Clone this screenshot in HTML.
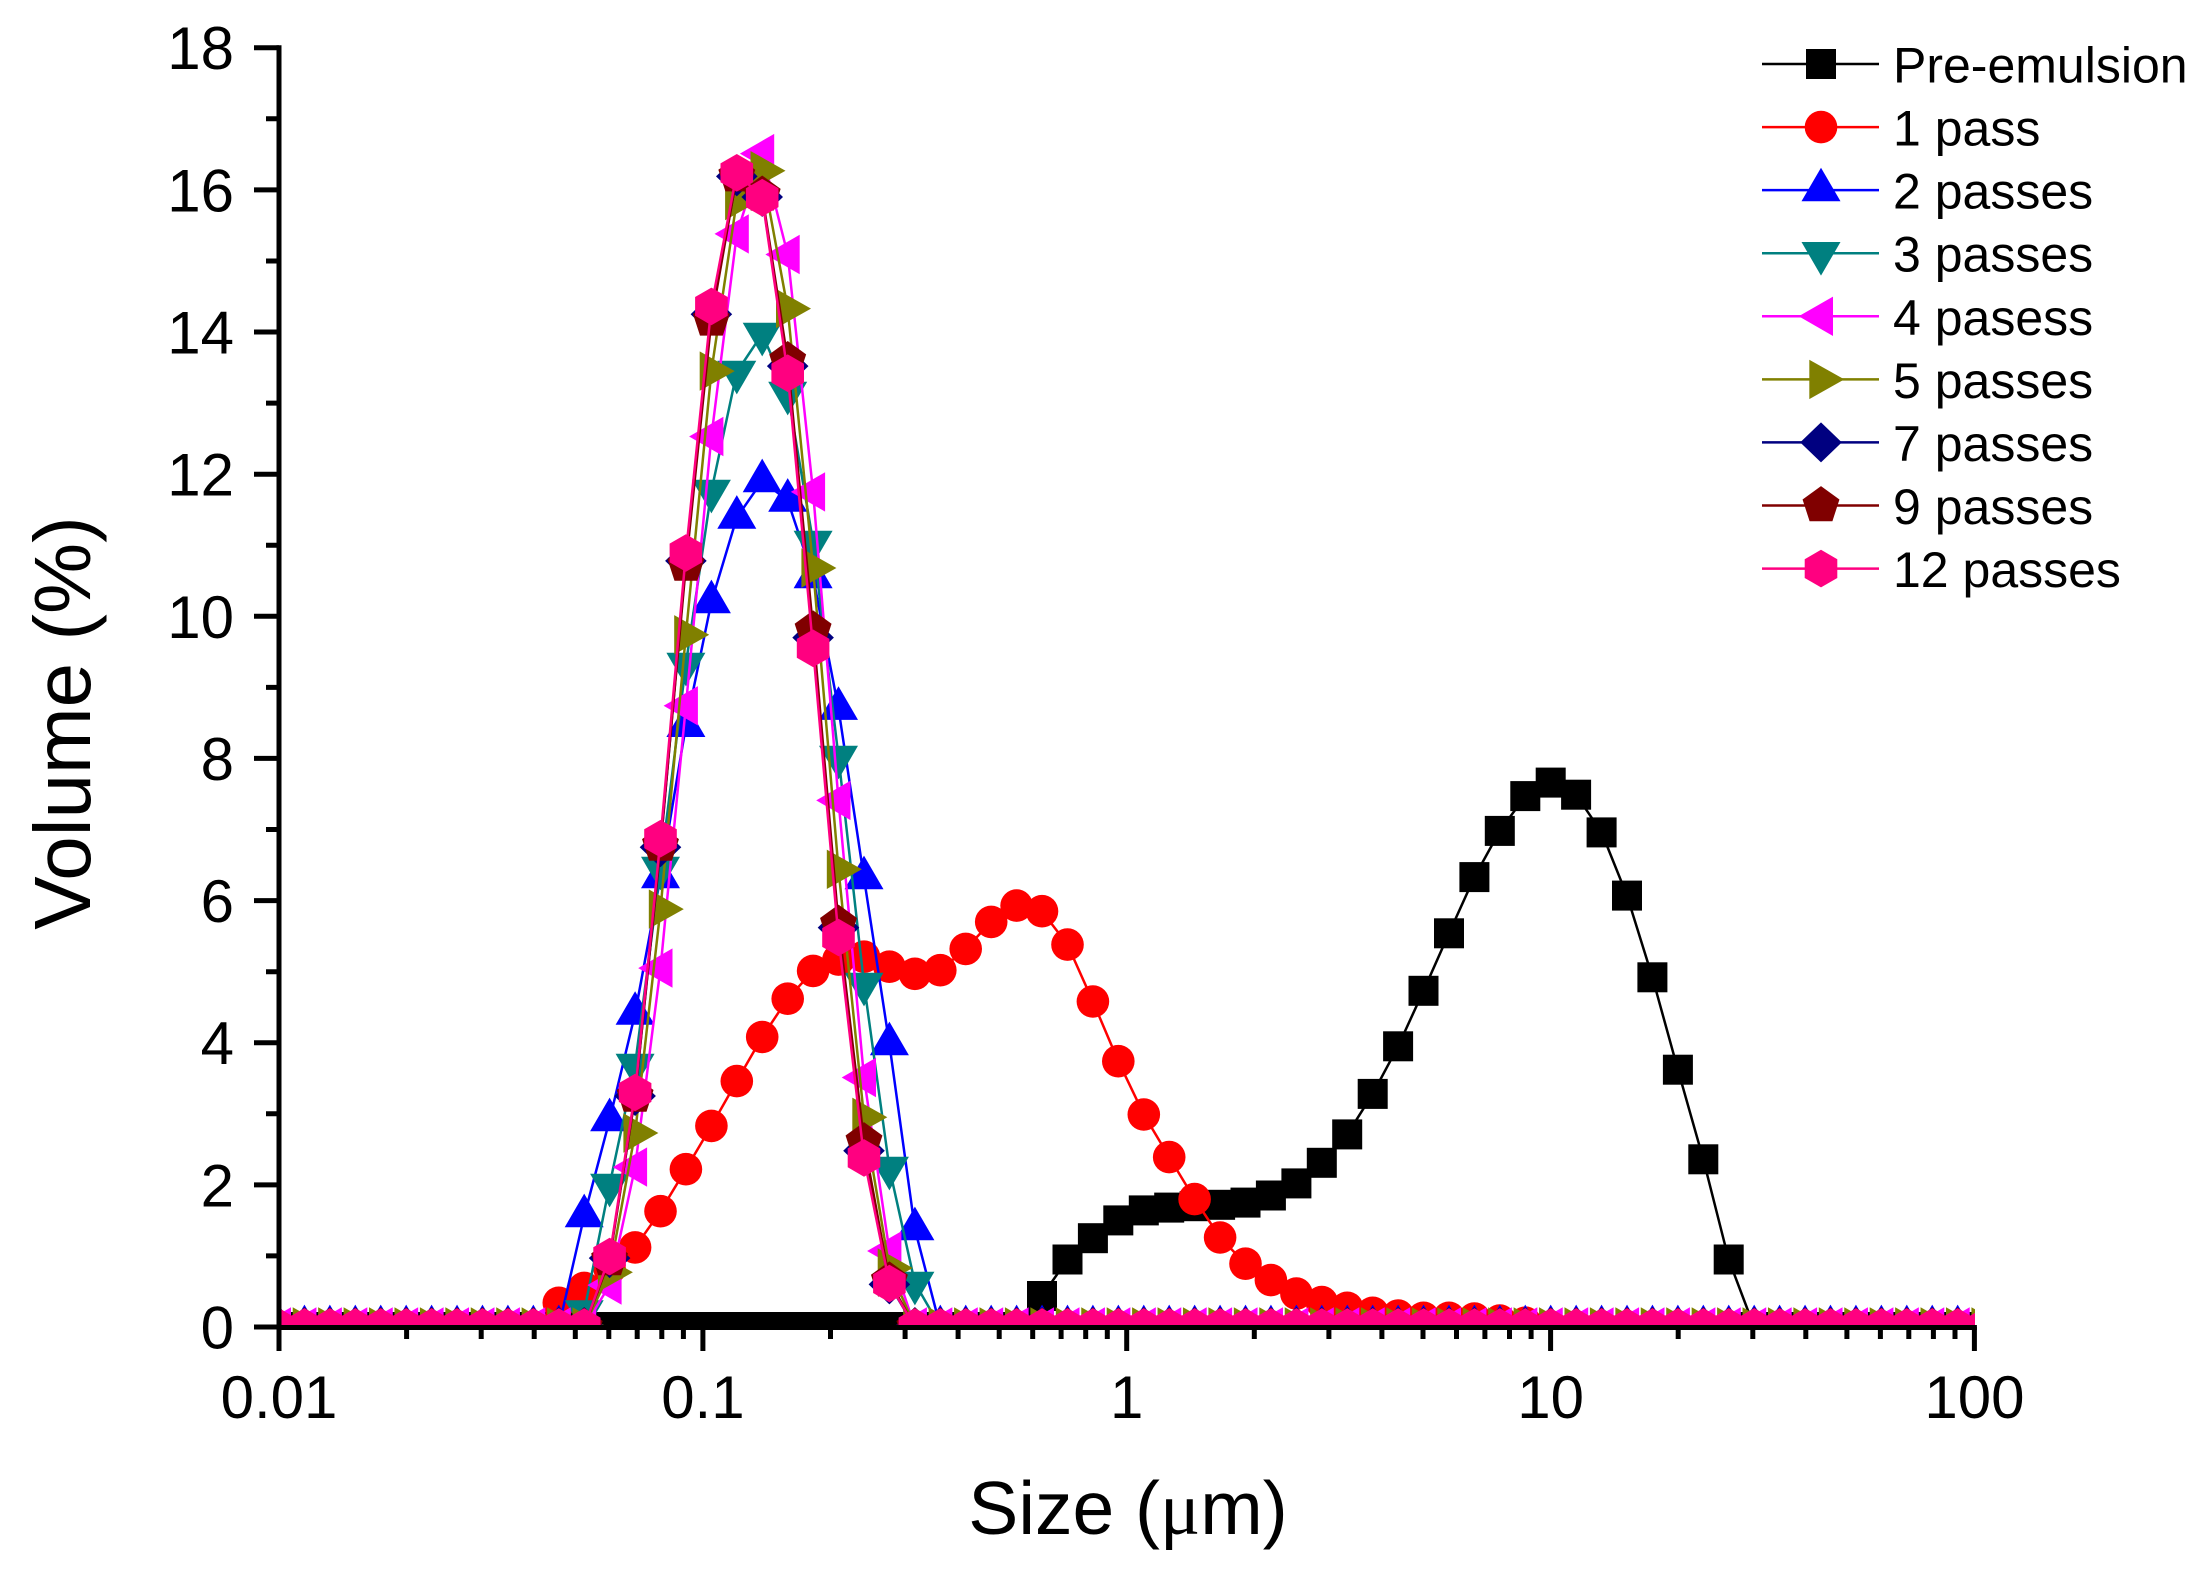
<!DOCTYPE html>
<html>
<head>
<meta charset="utf-8">
<style>
html,body{margin:0;padding:0;background:#fff;}
svg{display:block;}
text{font-family:"Liberation Sans",Arial,sans-serif;fill:#000;}
</style>
</head>
<body>
<svg width="2208" height="1580" viewBox="0 0 2208 1580" xmlns="http://www.w3.org/2000/svg">
<defs>
<marker id="msq" markerUnits="userSpaceOnUse" markerWidth="80" markerHeight="80" refX="40" refY="40" orient="0"><rect x="25" y="25" width="30" height="30" fill="#000000"/></marker>
<marker id="mci" markerUnits="userSpaceOnUse" markerWidth="80" markerHeight="80" refX="40" refY="40" orient="0"><circle cx="40" cy="40" r="16.3" fill="#FF0000"/></marker>
<marker id="mup" markerUnits="userSpaceOnUse" markerWidth="80" markerHeight="80" refX="40" refY="40" orient="0"><polygon points="40,17.6 59.5,51.2 20.5,51.2" fill="#0000FF"/></marker>
<marker id="mdn" markerUnits="userSpaceOnUse" markerWidth="80" markerHeight="80" refX="40" refY="40" orient="0"><polygon points="40,62.4 59.5,28.8 20.5,28.8" fill="#008080"/></marker>
<marker id="mlt" markerUnits="userSpaceOnUse" markerWidth="80" markerHeight="80" refX="40" refY="40" orient="0"><polygon points="17.7,40 52,20.3 52,59.7" fill="#FF00FF"/></marker>
<marker id="mrt" markerUnits="userSpaceOnUse" markerWidth="80" markerHeight="80" refX="40" refY="40" orient="0"><polygon points="63.3,40 28.3,20.3 28.3,59.7" fill="#808000"/></marker>
<marker id="mdi" markerUnits="userSpaceOnUse" markerWidth="80" markerHeight="80" refX="40" refY="40" orient="0"><polygon points="40,20 60.8,40 40,60 19.2,40" fill="#000080"/></marker>
<marker id="mpe" markerUnits="userSpaceOnUse" markerWidth="80" markerHeight="80" refX="40" refY="40" orient="0"><polygon points="40,20.6 58.45,34 51.4,55.7 28.6,55.7 21.55,34" fill="#800000"/></marker>
<marker id="mhx" markerUnits="userSpaceOnUse" markerWidth="80" markerHeight="80" refX="40" refY="40" orient="0"><polygon points="40,21.2 56.3,30.6 56.3,49.4 40,58.8 23.7,49.4 23.7,30.6" fill="#FF0080"/></marker>
<clipPath id="plotclip"><rect x="279" y="0" width="1696" height="1328"/></clipPath>
</defs>

<rect x="0" y="0" width="2208" height="1580" fill="#ffffff"/>

<g clip-path="url(#plotclip)" fill="none" stroke-width="2.5" stroke-linejoin="round">
<!-- Pre-emulsion -->
<path stroke="#000000" marker-start="url(#msq)" marker-mid="url(#msq)" marker-end="url(#msq)"
d="M279,1327h25.434h25.434h25.434h25.434h25.434h25.434h25.434h25.434h25.434h25.434h25.434h25.434h25.434h25.434h25.434h25.434h25.434h25.434h25.434h25.434h25.434h25.434h25.434h25.434h25.434h25.434h25.434h25.434h25.434
L1042.0,1296 L1067.5,1259.5 L1092.9,1238.2 L1118.3,1220.4 L1143.8,1210.4 L1169.2,1207.6 L1194.6,1206.2 L1220.1,1204.8 L1245.5,1202.6 L1270.9,1195.5 L1296.4,1183.4 L1321.8,1162.8 L1347.2,1134.4 L1372.7,1093.9 L1398.1,1046.3 L1423.5,990.8 L1449.0,933.3 L1474.4,877.1 L1499.8,830.9 L1525.3,796.1 L1550.7,782.6 L1576.1,794.7 L1601.6,832.4 L1627.0,895.6 L1652.4,977.3 L1677.9,1069.7 L1703.3,1159.3 L1728.7,1259.5 L1754.2,1327
h25.434h25.434h25.434h25.434h25.434h25.434h25.434h25.434h25.434"/>
<!-- 1 pass -->
<path stroke="#FF0000" marker-start="url(#mci)" marker-mid="url(#mci)" marker-end="url(#mci)"
d="M279,1327h25.434h25.434h25.434h25.434h25.434h25.434h25.434h25.434h25.434h25.434
L558.8,1302.8 L584.2,1287.9 L609.6,1268.7 L635.1,1247.4 L660.5,1211.2 L685.9,1169.2 L711.4,1125.9 L736.8,1081.1 L762.2,1037.0 L787.7,998.7 L813.1,970.9 L838.5,959.6 L864.0,956.7 L889.4,966.7 L914.9,973.8 L940.3,970.2 L965.7,948.9 L991.2,921.9 L1016.6,905.6 L1042.0,911.2 L1067.5,944.6 L1092.9,1001.5 L1118.3,1061.2 L1143.8,1114.5 L1169.2,1157.1 L1194.6,1199.1 L1220.1,1237.5 L1245.5,1263.7 L1270.9,1280.1 L1296.4,1293.6 L1321.8,1302.1 L1347.2,1307.8 L1372.7,1312.8 L1398.1,1315.6 L1423.5,1317.8 L1449.0,1317.8 L1474.4,1318.5 L1499.8,1320.6 L1525.3,1322.7 L1550.7,1327
h25.434h25.434h25.434h25.434h25.434h25.434h25.434h25.434h25.434h25.434h25.434h25.434h25.434h25.434h25.434h25.434h25.434"/>
<!-- 2 passes -->
<path stroke="#0000FF" marker-start="url(#mup)" marker-mid="url(#mup)" marker-end="url(#mup)"
d="M279,1327h25.434h25.434h25.434h25.434h25.434h25.434h25.434h25.434h25.434h25.434h25.434
L584.2,1216 L609.6,1120 L635.1,1013.6 L660.5,877 L685.9,725.8 L711.4,602 L736.8,517.5 L762.2,481 L787.7,500.5 L813.1,577 L838.5,708.7 L864.0,878 L889.4,1044 L914.9,1229 L940.3,1327
h25.434h25.434h25.434h25.434h25.434h25.434h25.434h25.434h25.434h25.434h25.434h25.434h25.434h25.434h25.434h25.434h25.434h25.434h25.434h25.434h25.434h25.434h25.434h25.434h25.434h25.434h25.434h25.434h25.434h25.434h25.434h25.434h25.434h25.434h25.434h25.434h25.434h25.434h25.434h25.434h25.434"/>
<!-- 3 passes -->
<path stroke="#008080" marker-start="url(#mdn)" marker-mid="url(#mdn)" marker-end="url(#mdn)"
d="M279,1327h25.434h25.434h25.434h25.434h25.434h25.434h25.434h25.434h25.434h25.434h25.434
L584.2,1311.4 L609.6,1185 L635.1,1065 L660.5,868 L685.9,664 L711.4,491 L736.8,372 L762.2,334 L787.7,393 L813.1,542 L838.5,757 L864.0,984 L889.4,1168 L914.9,1283 L940.3,1327
h25.434h25.434h25.434h25.434h25.434h25.434h25.434h25.434h25.434h25.434h25.434h25.434h25.434h25.434h25.434h25.434h25.434h25.434h25.434h25.434h25.434h25.434h25.434h25.434h25.434h25.434h25.434h25.434h25.434h25.434h25.434h25.434h25.434h25.434h25.434h25.434h25.434h25.434h25.434h25.434h25.434"/>
<!-- 4 pasess -->
<path stroke="#FF00FF" marker-start="url(#mlt)" marker-mid="url(#mlt)" marker-end="url(#mlt)"
d="M279,1327h25.434h25.434h25.434h25.434h25.434h25.434h25.434h25.434h25.434h25.434h25.434h25.434
L609.6,1285.1 L635.1,1167.1 L660.5,968.1 L685.9,705.8 L711.4,436.5 L736.8,233.9 L762.2,153.6 L787.7,254.5 L813.1,491.9 L838.5,800.4 L864.0,1077.5 L889.4,1251.0 L914.9,1327
h25.434h25.434h25.434h25.434h25.434h25.434h25.434h25.434h25.434h25.434h25.434h25.434h25.434h25.434h25.434h25.434h25.434h25.434h25.434h25.434h25.434h25.434h25.434h25.434h25.434h25.434h25.434h25.434h25.434h25.434h25.434h25.434h25.434h25.434h25.434h25.434h25.434h25.434h25.434h25.434h25.434h25.434"/>
<!-- 5 passes -->
<path stroke="#808000" marker-start="url(#mrt)" marker-mid="url(#mrt)" marker-end="url(#mrt)"
d="M279,1327h25.434h25.434h25.434h25.434h25.434h25.434h25.434h25.434h25.434h25.434h25.434h25.434
L609.6,1272.3 L635.1,1133.0 L660.5,909.1 L685.9,634.8 L711.4,371.1 L736.8,200.5 L762.2,170.7 L787.7,308.6 L813.1,568.0 L838.5,869.3 L864.0,1117.3 L889.4,1268.0 L914.9,1327
h25.434h25.434h25.434h25.434h25.434h25.434h25.434h25.434h25.434h25.434h25.434h25.434h25.434h25.434h25.434h25.434h25.434h25.434h25.434h25.434h25.434h25.434h25.434h25.434h25.434h25.434h25.434h25.434h25.434h25.434h25.434h25.434h25.434h25.434h25.434h25.434h25.434h25.434h25.434h25.434h25.434h25.434"/>
<!-- 7 passes -->
<path stroke="#000080" marker-start="url(#mdi)" marker-mid="url(#mdi)" marker-end="url(#mdi)"
d="M279,1327h25.434h25.434h25.434h25.434h25.434h25.434h25.434h25.434h25.434h25.434h25.434h25.434
L609.6,1258.1 L635.1,1096.0 L660.5,847.3 L685.9,560.9 L711.4,314.3 L736.8,176.4 L762.2,197.0 L787.7,366.1 L813.1,637.6 L838.5,927.6 L864.0,1150.7 L889.4,1284.4 L914.9,1327
h25.434h25.434h25.434h25.434h25.434h25.434h25.434h25.434h25.434h25.434h25.434h25.434h25.434h25.434h25.434h25.434h25.434h25.434h25.434h25.434h25.434h25.434h25.434h25.434h25.434h25.434h25.434h25.434h25.434h25.434h25.434h25.434h25.434h25.434h25.434h25.434h25.434h25.434h25.434h25.434h25.434h25.434"/>
<!-- 9 passes -->
<path stroke="#800000" marker-start="url(#mpe)" marker-mid="url(#mpe)" marker-end="url(#mpe)"
d="M279,1327h25.434h25.434h25.434h25.434h25.434h25.434h25.434h25.434h25.434h25.434h25.434h25.434
L609.6,1259.5 L635.1,1096.0 L660.5,845.1 L685.9,565.1 L711.4,319.9 L736.8,175.7 L762.2,194.9 L787.7,360.4 L813.1,629.8 L838.5,924.0 L864.0,1141.5 L889.4,1280.8 L914.9,1327
h25.434h25.434h25.434h25.434h25.434h25.434h25.434h25.434h25.434h25.434h25.434h25.434h25.434h25.434h25.434h25.434h25.434h25.434h25.434h25.434h25.434h25.434h25.434h25.434h25.434h25.434h25.434h25.434h25.434h25.434h25.434h25.434h25.434h25.434h25.434h25.434h25.434h25.434h25.434h25.434h25.434h25.434"/>
<!-- 12 passes -->
<path stroke="#FF0080" marker-start="url(#mhx)" marker-mid="url(#mhx)" marker-end="url(#mhx)"
d="M279,1327h25.434h25.434h25.434h25.434h25.434h25.434h25.434h25.434h25.434h25.434h25.434h25.434
L609.6,1256.6 L635.1,1092.5 L660.5,838.7 L685.9,553.0 L711.4,306.4 L736.8,172.8 L762.2,197.7 L787.7,373.2 L813.1,648.3 L838.5,937.5 L864.0,1157.9 L889.4,1283.6 L914.9,1327
h25.434h25.434h25.434h25.434h25.434h25.434h25.434h25.434h25.434h25.434h25.434h25.434h25.434h25.434h25.434h25.434h25.434h25.434h25.434h25.434h25.434h25.434h25.434h25.434h25.434h25.434h25.434h25.434h25.434h25.434h25.434h25.434h25.434h25.434h25.434h25.434h25.434h25.434h25.434h25.434h25.434h25.434"/>
</g>

<!-- Axes -->
<g stroke="#000" stroke-width="5" fill="none" stroke-linecap="butt">
<path d="M279,45.2V1351"/>
<path d="M276.5,1327.5H1976.9"/>
<path d="M254,1327H279 M254,1184.9H279 M254,1042.7H279 M254,900.6H279 M254,758.4H279 M254,616.3H279 M254,474.2H279 M254,332H279 M254,189.9H279 M254,47.7H279"/>
<path d="M266,1255.9H279 M266,1113.8H279 M266,971.7H279 M266,829.5H279 M266,687.4H279 M266,545.2H279 M266,403.1H279 M266,261H279 M266,118.8H279"/>
<path d="M702.9,1327V1351 M1126.7,1327V1351 M1550.6,1327V1351 M1974.4,1327V1351"/>
<path d="M406.6,1327V1339 M481.2,1327V1339 M534.2,1327V1339 M575.3,1327V1339 M608.8,1327V1339 M637.2,1327V1339 M661.8,1327V1339 M683.4,1327V1339
M830.5,1327V1339 M905.1,1327V1339 M958.1,1327V1339 M999.2,1327V1339 M1032.7,1327V1339 M1061.1,1327V1339 M1085.7,1327V1339 M1107.3,1327V1339
M1254.3,1327V1339 M1328.9,1327V1339 M1381.9,1327V1339 M1423,1327V1339 M1456.5,1327V1339 M1484.9,1327V1339 M1509.5,1327V1339 M1531.1,1327V1339
M1678.2,1327V1339 M1752.8,1327V1339 M1805.8,1327V1339 M1846.9,1327V1339 M1880.4,1327V1339 M1908.8,1327V1339 M1933.4,1327V1339 M1955,1327V1339"/>
</g>

<!-- Y tick labels -->
<g font-size="60" text-anchor="end">
<text x="234" y="1348.5">0</text>
<text x="234" y="1206.4">2</text>
<text x="234" y="1064.2">4</text>
<text x="234" y="922.1">6</text>
<text x="234" y="779.9">8</text>
<text x="234" y="637.8">10</text>
<text x="234" y="495.7">12</text>
<text x="234" y="353.5">14</text>
<text x="234" y="211.4">16</text>
<text x="234" y="69.2">18</text>
</g>

<!-- X tick labels -->
<g font-size="60" text-anchor="middle">
<text x="279" y="1418">0.01</text>
<text x="702.9" y="1418">0.1</text>
<text x="1126.7" y="1418">1</text>
<text x="1550.6" y="1418">10</text>
<text x="1974.4" y="1418">100</text>
</g>

<!-- Axis titles -->
<text transform="translate(90,723) rotate(-90)" text-anchor="middle" font-size="80">Volume (%)</text>
<text x="1128" y="1534" text-anchor="middle" font-size="75">Size (<tspan font-family="'Liberation Serif','DejaVu Serif',serif">μ</tspan>m)</text>

<!-- Legend -->
<g fill="none" stroke-width="2.5">
<path stroke="#000000" marker-mid="url(#msq)" d="M1762,64 L1821,64 L1879,64"/>
<path stroke="#FF0000" marker-mid="url(#mci)" d="M1762,127.1 L1821,127.1 L1879,127.1"/>
<path stroke="#0000FF" marker-mid="url(#mup)" d="M1762,190.1 L1821,190.1 L1879,190.1"/>
<path stroke="#008080" marker-mid="url(#mdn)" d="M1762,253.2 L1821,253.2 L1879,253.2"/>
<path stroke="#FF00FF" marker-mid="url(#mlt)" d="M1762,316.3 L1821,316.3 L1879,316.3"/>
<path stroke="#808000" marker-mid="url(#mrt)" d="M1762,379.4 L1821,379.4 L1879,379.4"/>
<path stroke="#000080" marker-mid="url(#mdi)" d="M1762,442.4 L1821,442.4 L1879,442.4"/>
<path stroke="#800000" marker-mid="url(#mpe)" d="M1762,505.5 L1821,505.5 L1879,505.5"/>
<path stroke="#FF0080" marker-mid="url(#mhx)" d="M1762,568.6 L1821,568.6 L1879,568.6"/>
</g>
<g font-size="50">
<text x="1893" y="82.5">Pre-emulsion</text>
<text x="1893" y="145.6">1 pass</text>
<text x="1893" y="208.6">2 passes</text>
<text x="1893" y="271.7">3 passes</text>
<text x="1893" y="334.8">4 pasess</text>
<text x="1893" y="397.9">5 passes</text>
<text x="1893" y="460.9">7 passes</text>
<text x="1893" y="524.0">9 passes</text>
<text x="1893" y="587.1">12 passes</text>
</g>
</svg>
</body>
</html>
